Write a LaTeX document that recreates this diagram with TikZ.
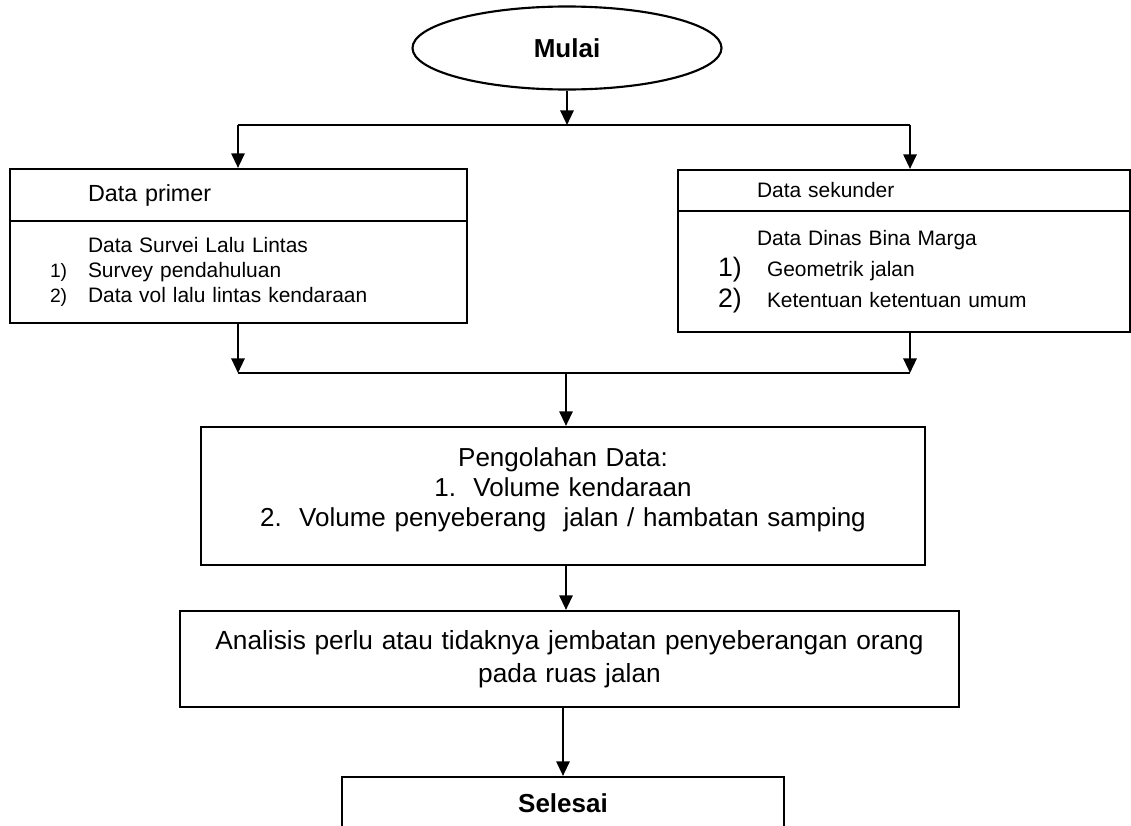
\documentclass[tikz,border=0pt]{standalone}
\usepackage{fontspec}
\setmainfont{Liberation Sans}
\usetikzlibrary{arrows.meta,shapes.geometric}
\tikzset{
  box/.style={draw,line width=1.6pt,rectangle,inner sep=0pt},
  arr/.style={line width=1.6pt,-{Triangle[length=11pt,width=10pt]}},
}
\newcommand{\fs}[2]{\fontsize{#1}{#2}\selectfont}

\begin{document}
\begin{tikzpicture}[x=0.75pt,y=-0.75pt]
  \useasboundingbox (0,0) rectangle (1131,825);
  \node[draw,line width=1.6pt,ellipse,minimum width=231.75pt,minimum height=62.25pt,inner sep=0pt,font=\fs{19.5}{23}\bfseries] (mulai) at (567,48) {Mulai};
  \node[box,minimum width=342.75pt,minimum height=39pt,text width=225.75pt,inner xsep=58.5pt,align=left,font=\fs{17.5}{20}] (primer) at (238.5,195) {Data primer};
  \node[box,minimum width=342.75pt,minimum height=76.5pt,text width=282.75pt,inner xsep=30pt,align=left,font=\fs{15.7}{19}] (primerisi) at (238.5,272)
    {\hspace*{28.5pt}Data Survei Lalu Lintas\\
     \makebox[28.5pt][l]{\fs{14.5}{19}1)}Survey pendahuluan\\
     \makebox[28.5pt][l]{\fs{14.5}{19}2)}Data vol lalu lintas kendaraan};
  \node[box,minimum width=339pt,minimum height=30.75pt,text width=220.5pt,inner xsep=59.25pt,align=left,font=\fs{15.7}{19}] (sekunder) at (904,190.5) {Data sekunder};
  \node[box,minimum width=339pt,minimum height=90.75pt,text width=279pt,inner xsep=30pt,align=left,font=\fs{15.7}{23.25}] (sekunderisi) at (904,271.5)
    {\hspace*{29.25pt}Data Dinas Bina Marga\\
     \makebox[36.75pt][l]{\fs{20}{23.25}1)}Geometrik jalan\\
     \makebox[36.75pt][l]{\fs{20}{23.25}2)}Ketentuan ketentuan umum};
  \node[box,minimum width=543pt,minimum height=103.5pt,text width=543pt,align=center,font=\fs{19.5}{22.5}] (olah) at (563,496)
    {Pengolahan Data:\\
     1.\ \ Volume kendaraan\\
     2.\ \ Volume penyeberang\ \ jalan / hambatan samping\rule[-13.5pt]{0pt}{0pt}};
  \node[box,minimum width=584.25pt,minimum height=72pt,text width=584.25pt,align=center,font=\fs{19.7}{24.75}] (analisis) at (569.5,659)
    {Analisis perlu atau tidaknya jembatan penyeberangan orang\\ pada ruas jalan};
  \node[box,minimum width=331.5pt,minimum height=39pt,font=\fs{19.5}{23}\bfseries] (selesai) at (563,803) {Selesai};

  \coordinate (j1) at (567,125);
  \coordinate (j1l) at (238,125);
  \coordinate (j1r) at (910,125);
  \coordinate (j2) at (566,373);
  \coordinate (j2l) at (238,373);
  \coordinate (j2r) at (910,373);

  \begin{scope}[arr]
    \draw (mulai) -- (j1);
    \draw[-] (j1l) -- (j1r);
    \draw (j1l) -- (j1l |- primer.north);
    \draw (j1r) -- (j1r |- sekunder.north);
    \draw (j1l |- primerisi.south) -- (j2l);
    \draw (j1r |- sekunderisi.south) -- (j2r);
    \draw[-] (j2l) -- (j2r);
    \draw (j2) -- (j2 |- olah.north);
    \draw (j2 |- olah.south) -- (j2 |- analisis.north);
    \draw (analisis.south -| selesai) -- (selesai);
  \end{scope}
\end{tikzpicture}
\end{document}
